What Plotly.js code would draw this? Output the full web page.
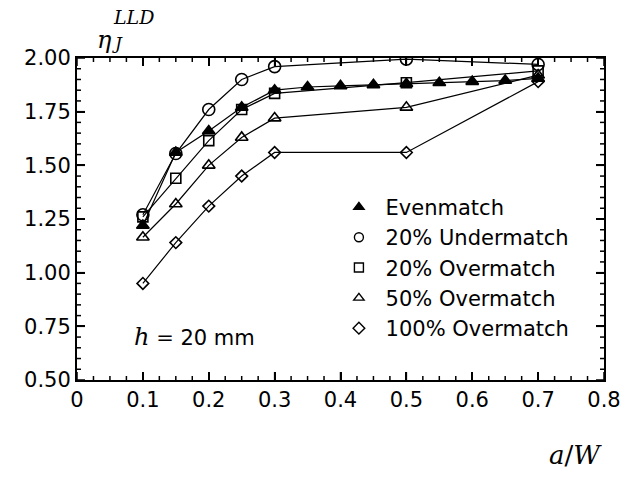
<!DOCTYPE html>
<html><head><meta charset="utf-8">
<script src="https://cdn.plot.ly/plotly-3.0.1.min.js"></script>
<style>body{margin:0;background:#fff}</style>
</head><body><div id="chart" style="width:633px;height:477px"></div>
<script>
// a/W positions
const aWFull = [0.1,0.15,0.2,0.25,0.3,0.35,0.4,0.45,0.5,0.55,0.6,0.65,0.7];
const aWSparse = [0.1,0.15,0.2,0.25,0.3,0.5,0.7];
// eta_J^LLD values
const evenmatch = [1.22,1.56,1.66,1.77,1.85,1.865,1.87,1.875,1.88,1.885,1.89,1.895,1.905];
const under20 = [1.27,1.555,1.76,1.90,1.96,1.995,1.97];
const over20 = [1.26,1.44,1.615,1.76,1.835,1.885,1.94];
const over50 = [1.165,1.32,1.50,1.63,1.72,1.77,1.92];
const over100 = [0.95,1.14,1.31,1.45,1.56,1.56,1.89];
const seriesNames = ['Evenmatch','20% Undermatch','20% Overmatch','50% Overmatch','100% Overmatch'];
// axis tick positions
const xMajor = [0,0.1,0.2,0.3,0.4,0.5,0.6,0.7,0.8];
const yMajor = [0.5,0.75,1.0,1.25,1.5,1.75,2.0];

const symbols = ['triangle-up','circle-open','square-open','triangle-up-open','diamond-open'];
const sizes = [11,12,10,11,9];
const legSizes = [9,9,9,9,9];
const xs = [aWFull,aWSparse,aWSparse,aWSparse,aWSparse];
const ys = [evenmatch,under20,over20,over50,over100];

const traces = [];
const order = [4,3,2,1,0];
order.forEach(i => {
  traces.push({x: xs[i], y: ys[i], mode:'lines+markers', showlegend:false,
    line:{color:'#000', width:1.2},
    marker:{symbol:symbols[i], size:sizes[i], color:'#000', line:{color:'#000', width:1.6}}});
});
for (let i=0;i<5;i++){
  traces.push({x:[null], y:[null], mode:'markers', name:'\u00a0'+seriesNames[i],
    marker:{symbol:symbols[i], size:legSizes[i], color:'#000', line:{color:'#000', width:1.4}}});
}

// tick marks (inside, on all four sides) placed through the axes' own scales
const shapes = [];
const tl = {color:'#000', width:1.5};
function xTick(v, len){
  shapes.push({type:'line', xref:'x', yref:'paper', x0:v, x1:v, ysizemode:'pixel', yanchor:0, y0:0, y1:len, line:tl});
  shapes.push({type:'line', xref:'x', yref:'paper', x0:v, x1:v, ysizemode:'pixel', yanchor:1, y0:0, y1:-len, line:tl});
}
function yTick(v, len){
  shapes.push({type:'line', xref:'paper', yref:'y', y0:v, y1:v, xsizemode:'pixel', xanchor:0, x0:0, x1:len, line:tl});
  shapes.push({type:'line', xref:'paper', yref:'y', y0:v, y1:v, xsizemode:'pixel', xanchor:1, x0:0, x1:-len, line:tl});
}
for (let k=0;k<xMajor.length;k++){
  xTick(xMajor[k], 8);
  if (k < xMajor.length-1) for (let m=1;m<4;m++) xTick(xMajor[k] + (xMajor[k+1]-xMajor[k])*m/4, 4);
}
for (let k=0;k<yMajor.length;k++){
  yTick(yMajor[k], 8);
  if (k < yMajor.length-1) for (let m=1;m<5;m++) yTick(yMajor[k] + (yMajor[k+1]-yMajor[k])*m/5, 4);
}

const sansFam = 'DejaVu Sans, Arial, sans-serif';
const common = {ticks:'inside', ticklen:8, tickwidth:1.5, tickcolor:'#000',
  showline:true, linewidth:2, linecolor:'#000', mirror:'allticks', showgrid:false, zeroline:false};
const layout = {
  width:633, height:477,
  margin:{l:77, r:29, t:58, b:97},
  font:{family:sansFam, size:21, color:'#000'},
  paper_bgcolor:'#fff', plot_bgcolor:'#fff',
  showlegend:true,
  legend:{x:0.497, y:0.60, xanchor:'left', yanchor:'top', bgcolor:'rgba(0,0,0,0)', tracegroupgap:0},
  xaxis:Object.assign({}, common, {range:[0,0.8], tickmode:'array', tickvals:xMajor,
    ticktext:xMajor.map(v => v===0 ? '0' : v.toFixed(1))}),
  yaxis:Object.assign({}, common, {range:[0.5,2.0], tickmode:'array', tickvals:yMajor,
    ticktext:yMajor.map(v => v.toFixed(2))}),
  shapes: shapes,
  annotations:[
    {xref:'paper', yref:'paper', x:(95-77)/527, y:(380-40)/322, xanchor:'left', yanchor:'middle', showarrow:false,
      text:'<i>η</i>', font:{family:'DejaVu Serif, serif', size:24, color:'#000'}},
    {xref:'paper', yref:'paper', x:(111-77)/527, y:(380-17)/322, xanchor:'left', yanchor:'middle', showarrow:false,
      text:'<i>LLD</i>', font:{family:'DejaVu Serif, serif', size:19, color:'#000'}},
    {xref:'paper', yref:'paper', x:(110-77)/527, y:(380-43)/322, xanchor:'left', yanchor:'middle', showarrow:false,
      text:'<i>J</i>', font:{family:'DejaVu Serif, serif', size:17, color:'#000'}},
    {xref:'paper', yref:'paper', x:(604-77)/527, y:(380-455)/322, xanchor:'right', yanchor:'middle', showarrow:false,
      text:'<i>a</i>/<i>W</i>', font:{family:'DejaVu Serif, serif', size:26, color:'#000'}},
    {xref:'paper', yref:'paper', x:(132-77)/527, y:(380-337)/322, xanchor:'left', yanchor:'middle', showarrow:false,
      text:'<span style="font-family:\'DejaVu Serif\';font-style:italic;font-size:24px">h</span><span style="font-family:\'DejaVu Serif\'"> = </span>20 mm'}
  ]
};
Plotly.newPlot('chart', traces, layout, {displayModeBar:false});
</script></body></html>
